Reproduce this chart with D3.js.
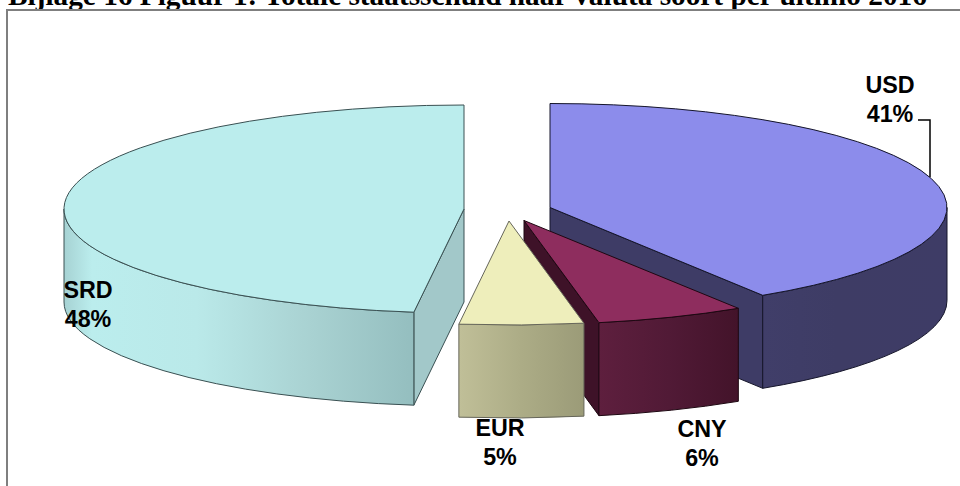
<!DOCTYPE html>
<html>
<head>
<meta charset="utf-8">
<style>
  html, body { margin: 0; padding: 0; background: #fff; overflow: hidden; }
  svg { display: block; }
</style>
<script src="https://cdn.jsdelivr.net/npm/d3@7"></script>
</head>
<body>
<svg width="960" height="486"></svg>
<script>
var titleText = "Bijlage 16 Figuur 1: Totale staatsschuld naar valuta soort per ultimo 2016";
var categories = ["USD", "CNY", "EUR", "SRD"];
var shares = [41, 6, 5, 48];

// exploded slice positions
var apexX = [550, 524, 509, 464];
var apexY = [207.5, 220.5, 221, 209];
var radiusX = [397, 400, 400, 400];
var radiusY = 104;
var depth = 93;

var topColors = ["#8c8ceb", "#8e2d5e", "#eeeebb", "#bbeded"];
var faceColors = ["#3e3c66", "#3e1228", "#9b9b78", "#a2c8c9"];
var wallStops = [
    [[0, "#3e3c66"], [0.6, "#3e3c65"], [1, "#403e69"]],
    [[0, "#43132a"], [0.5, "#511a36"], [1, "#5e1f3e"]],
    [[0, "#9b9b78"], [0.5, "#acac86"], [1, "#c0bf98"]],
    [[0, "#94bebf"], [0.3, "#a9d2d2"], [0.62, "#bae9e9"], [0.92, "#bbeded"], [1, "#a6d2d3"]]
];
var edgeColors = ["#15152a", "#1e0812", "#66665a", "#3a5052"];

var labelX = [890, 702, 500, 88];
var labelY = [93, 437, 436, 298];

var svg = d3.select("svg");
var defs = svg.append("defs");

var pie = d3.pie().sort(null).value(function(d) { return d; });
var slices = pie(shares);

function px(i, a) { return apexX[i] + radiusX[i] * Math.sin(a); }
function py(i, a) { return apexY[i] - radiusY * Math.cos(a); }

// title is cut off by the top edge in the source
svg.append("text")
    .attr("x", 8)
    .attr("y", 5)
    .attr("font-family", "'Liberation Serif'")
    .attr("font-weight", "bold")
    .attr("font-size", 29.3)
    .attr("fill", "#000")
    .text(titleText);

// frame, only top and left are visible
svg.append("path")
    .attr("d", "M7,486V10H960")
    .attr("fill", "none")
    .attr("stroke", "#7f7f7f")
    .attr("stroke-width", 2);

var front = Math.PI / 2, back = 3 * Math.PI / 2;

// draw back to front
[0, 3, 1, 2].forEach(function(i) {
    var s = slices[i];
    var g = svg.append("g").attr("class", "slice-" + categories[i]);
    var ax = apexX[i], ay = apexY[i];

    // cut face that looks at the viewer
    var faceAngle = null;
    if (s.endAngle < Math.PI) faceAngle = s.endAngle;
    if (s.startAngle > Math.PI) faceAngle = s.startAngle;
    if (faceAngle !== null) {
        var fx = px(i, faceAngle), fy = py(i, faceAngle);
        g.append("path")
            .attr("d", "M" + ax + "," + ay + "L" + fx + "," + fy + "L" + fx + "," + (fy + depth) + "L" + ax + "," + (ay + depth) + "Z")
            .attr("fill", faceColors[i])
            .attr("stroke", edgeColors[i])
            .attr("stroke-width", 1);
    }

    // outer wall
    var a0 = Math.max(s.startAngle, front), a1 = Math.min(s.endAngle, back);
    var x0 = px(i, a0), y0 = py(i, a0), x1 = px(i, a1), y1 = py(i, a1);
    var grad = defs.append("linearGradient")
        .attr("id", "wall" + i)
        .attr("gradientUnits", "userSpaceOnUse")
        .attr("x1", d3.max([x0, x1])).attr("y1", 0)
        .attr("x2", d3.min([x0, x1])).attr("y2", 0);
    grad.selectAll("stop").data(wallStops[i]).join("stop")
        .attr("offset", function(d) { return d[0]; })
        .attr("stop-color", function(d) { return d[1]; });
    var rx = radiusX[i];
    g.append("path")
        .attr("d", "M" + x0 + "," + y0 +
            "A" + rx + "," + radiusY + " 0 0 1 " + x1 + "," + y1 +
            "L" + x1 + "," + (y1 + depth) +
            "A" + rx + "," + radiusY + " 0 0 0 " + x0 + "," + (y0 + depth) + "Z")
        .attr("fill", "url(#wall" + i + ")")
        .attr("stroke", edgeColors[i])
        .attr("stroke-width", 1);

    // top of the slice, d3.arc squashed into the ellipse
    var arc = d3.arc().innerRadius(0).outerRadius(rx);
    g.append("path")
        .attr("transform", "translate(" + ax + "," + ay + ") scale(1," + (radiusY / rx) + ")")
        .attr("d", arc(s))
        .attr("fill", topColors[i])
        .attr("stroke", edgeColors[i])
        .attr("stroke-width", 1)
        .attr("vector-effect", "non-scaling-stroke");
});

// USD leader line
svg.append("path")
    .attr("d", "M918,120H930V177")
    .attr("fill", "none")
    .attr("stroke", "#000")
    .attr("stroke-width", 1.5);

categories.forEach(function(c, i) {
    var t = svg.append("text")
        .attr("text-anchor", "middle")
        .attr("font-family", "'Liberation Sans'")
        .attr("font-weight", "bold")
        .attr("font-size", 23.3)
        .attr("fill", "#000");
    t.append("tspan").attr("x", labelX[i]).attr("y", labelY[i]).text(c);
    t.append("tspan").attr("x", labelX[i]).attr("y", labelY[i] + 28.5).text(shares[i] + "%");
});
</script>
</body>
</html>
